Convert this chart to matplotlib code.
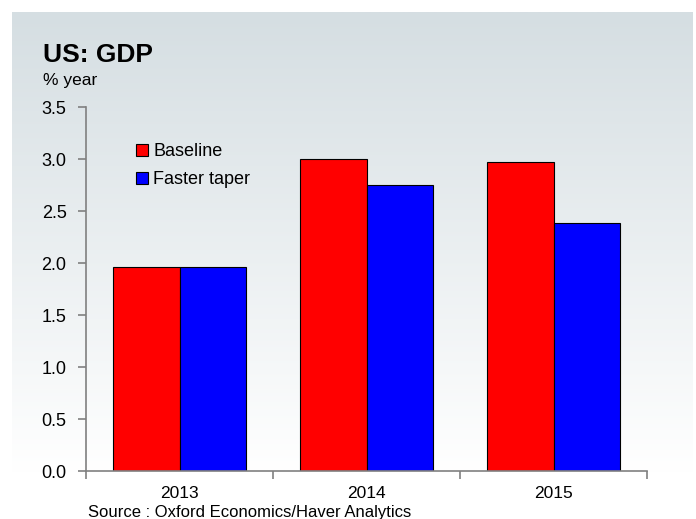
import numpy as np
import matplotlib
matplotlib.use("Agg")
import matplotlib.pyplot as plt
from matplotlib.ticker import FixedLocator

# data
years = ['2013', '2014', '2015']
baseline = [1.96, 3.00, 2.97]
faster_taper = [1.96, 2.75, 2.38]

plt.rcParams['font.family'] = ['Liberation Sans', 'DejaVu Sans']

W, H = 696, 519
fig = plt.figure(figsize=(W / 100.0, H / 100.0), dpi=100)
fig.patch.set_facecolor('white')

# gradient panel behind everything
bg = fig.add_axes([12.0 / W, 0.0, (693.0 - 12.0) / W, 1 - 12.0 / H], zorder=-5)
top = np.array([213, 222, 226]) / 255.0
bot = np.array([255, 255, 255]) / 255.0
t = np.clip(np.linspace(0, 1.1, 256), 0, 1)[:, None]
grad = top * (1 - t) + bot * t
bg.imshow(grad[:, None, :], aspect='auto', extent=(0, 1, 0, 1))
bg.set_axis_off()

ax = fig.add_axes([86.0 / W, 1 - 471.0 / H, (647.0 - 86.0) / W, (471.0 - 107.0) / H])
ax.patch.set_alpha(0)

x = np.arange(len(years))
bw = 0.357
ax.bar(x - bw / 2, baseline, bw, color='#ff0000', edgecolor='black', linewidth=0.8, label='Baseline')
ax.bar(x + bw / 2, faster_taper, bw, color='#0000ff', edgecolor='black', linewidth=0.8, label='Faster taper')

ax.set_xlim(-0.5, len(years) - 0.5)
ax.set_ylim(0, 3.5)
ax.set_yticks(np.arange(0, 3.51, 0.5))
ax.set_yticklabels(['%.1f' % v for v in np.arange(0, 3.51, 0.5)])
ax.set_xticks(x)
ax.set_xticklabels(years)
ax.xaxis.set_minor_locator(FixedLocator(np.arange(-0.5, len(years), 1.0)))

for s in ['top', 'right']:
    ax.spines[s].set_visible(False)
for s in ['left', 'bottom']:
    ax.spines[s].set_color('#808080')
    ax.spines[s].set_linewidth(1.2)

ax.tick_params(axis='y', direction='out', length=6, width=1.2, color='#808080', pad=8, labelsize=13)
ax.tick_params(axis='x', which='major', length=0, pad=11, labelsize=12.5)
ax.tick_params(axis='x', which='minor', direction='out', length=6, width=1.2, color='#808080')

fig.text(43.0 / W, 1 - 55.0 / H, 'US: GDP', fontsize=19, fontweight='bold', va='center', ha='left')
fig.text(43.0 / W, 1 - 81.0 / H, '% year', fontsize=12.5, va='center', ha='left')
fig.text(88.0 / W, 1 - 512.0 / H, 'Source : Oxford Economics/Haver Analytics', fontsize=12, va='center', ha='left')

leg = fig.legend(loc='upper left', bbox_to_anchor=(136.0 / W, 1 - 143.0 / H), frameon=False,
                 handlelength=0.65, handleheight=0.65, handletextpad=0.3, borderpad=0,
                 borderaxespad=0, labelspacing=0.62, fontsize=13)

fig.savefig('out.png', dpi=100)
